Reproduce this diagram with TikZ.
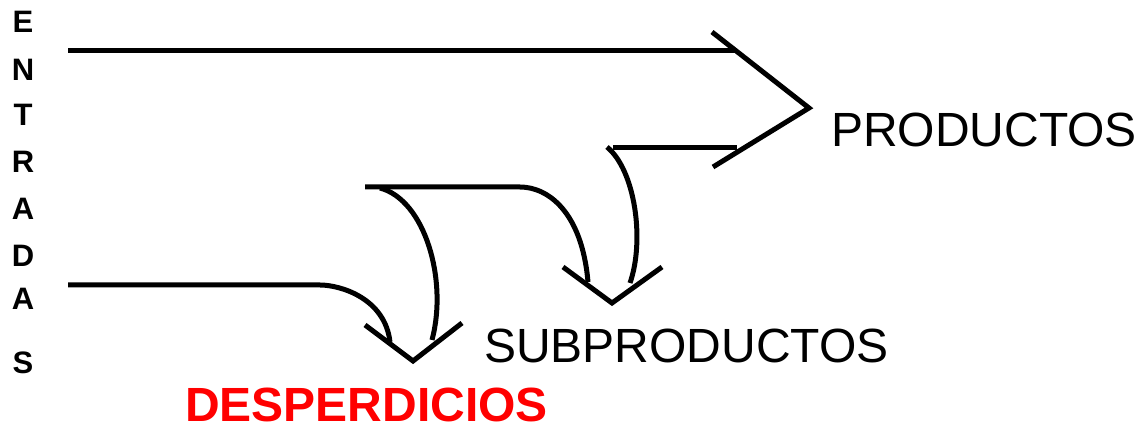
\documentclass[tikz,border=0pt]{standalone}
\usepackage{fontspec}
\setmainfont{Liberation Sans}
\usepackage{tikz}
\definecolor{wastered}{HTML}{FF0000}
\tikzset{
  flow/.style  ={draw=black, line width=5pt, line cap=butt},
  head/.style  ={draw=black, line width=5pt, line cap=butt, miter limit=4},
  lbl/.style   ={font=\fontsize{48}{48}\selectfont, inner sep=0pt,
                 anchor=base west},
  waste/.style ={font=\fontsize{48}{48}\selectfont\bfseries, text=wastered,
                 inner sep=0pt, text depth=0pt, anchor=base west},
  letter/.style={font=\fontsize{31}{31}\selectfont\bfseries, inner sep=0pt,
                 anchor=base}
}

\begin{document}
\begin{tikzpicture}[x=1pt, y=-1pt]
\useasboundingbox (0,0) rectangle (1141,427);
% Vertical caption, one letter per line.
\foreach \ch/\yy [count=\i] in {E/33, N/81, T/126, R/173, A/220, D/267, A/310, S/374}
  \node[letter] (in\i) at (23,\yy) {\ch};

\node[lbl]   (prod)  at (831,147) {PRODUCTOS};
\node[lbl]   (sub)   at (484,363) {SUBPRODUCTOS};
\node[waste] (waste) at (185,422) {DESPERDICIOS};

% Ends of the flow lines and tips of the open heads.
\coordinate (topin)   at (68,51);
\coordinate (topend)  at (737,51);
\coordinate (prodA)   at (712,32);
\coordinate (prodtip) at (809,108);
\coordinate (prodB)   at (713,167);
\coordinate (back)    at (737,148);
\coordinate (backL)   at (613,148);
\coordinate (backC)   at (607,147);
\coordinate (backend) at (630,283);
\coordinate (midL)    at (365,187);
\coordinate (midR)    at (520,187);
\coordinate (midC)    at (380,188);
\coordinate (midend)  at (588,282);
\coordinate (midout)  at (432,340);
\coordinate (lowin)   at (68,285);
\coordinate (lowR)    at (320,285);
\coordinate (lowend)  at (390,342);
\coordinate (subA)    at (563,267);
\coordinate (subtip)  at (612,303);
\coordinate (subB)    at (662,267);
\coordinate (wasteA)  at (365,325);
\coordinate (wastetip)at (413,361);
\coordinate (wasteB)  at (462,323);

% Main stream to the products.
\draw[flow] (topin) -- (topend);
\draw[head] (prodA) -- (prodtip) -- (prodB);

% Part of the products turned back into by-products.
\draw[flow] (back) -- (backL);
\draw[flow] (backC) .. controls (635,170) and (645,240) .. (backend);

% Middle stream split between by-products and waste.
\draw[flow] (midL) -- (midR) .. controls (548,187) and (582,212) .. (midend);
\draw[flow] (midC) .. controls (425,200) and (448,280) .. (midout);
\draw[head] (subA) -- (subtip) -- (subB);

% Lower stream straight to waste.
\draw[flow] (lowin) -- (lowR) .. controls (340,285) and (385,298) .. (lowend);
\draw[head] (wasteA) -- (wastetip) -- (wasteB);
\end{tikzpicture}
\end{document}
